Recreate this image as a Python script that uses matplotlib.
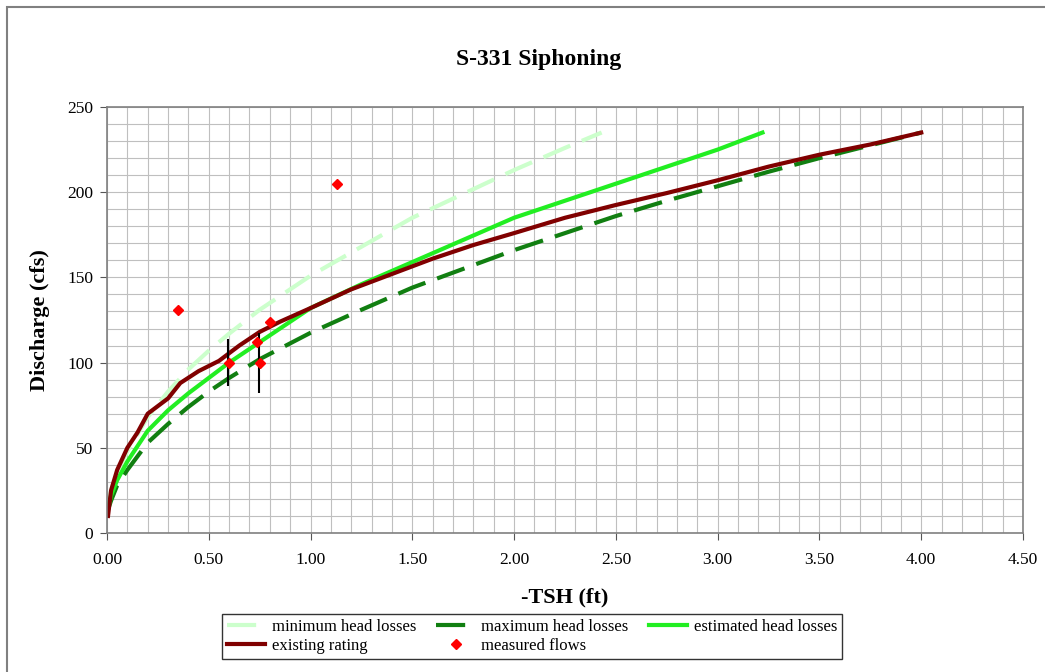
import matplotlib
matplotlib.use("Agg")
import matplotlib.pyplot as plt
from matplotlib.patches import Rectangle
from matplotlib.ticker import MultipleLocator, FormatStrFormatter

plt.rcParams['font.family'] = ['Liberation Serif', 'DejaVu Serif']

# Existing rating
exist_x = [0.005, 0.02, 0.05, 0.10, 0.15, 0.20, 0.30, 0.36, 0.45, 0.55, 0.65, 0.75, 0.85,
           1.0, 1.2, 1.4, 1.6, 1.8, 2.0, 2.25, 2.5, 2.75, 3.0, 3.25, 3.5, 3.75, 4.0]
exist_q = [10, 25, 37, 50, 59, 70, 79, 88, 95, 101, 110, 118, 124,
           132, 143, 152, 161, 169, 176, 185, 192.5, 199.5, 207, 215, 222, 228, 235]

# Estimated head losses
est_x = [0.0, 0.02, 0.05, 0.1, 0.2, 0.3, 0.4, 0.5, 0.6, 0.75, 1.0, 1.25, 1.5, 1.75,
         2.0, 2.25, 2.5, 2.75, 3.0, 3.22]
est_q = [12, 22, 31, 42, 60, 72, 82, 91, 100, 112, 132, 146, 159, 172,
         185, 195, 205, 215, 225, 235]

# Minimum head losses
min_x = [0.0, 0.02, 0.05, 0.1, 0.2, 0.3, 0.4, 0.5, 0.6, 0.75, 1.0, 1.25, 1.5, 1.75,
         2.0, 2.25, 2.43]
min_q = [12, 25, 36, 48, 68, 83, 96, 107, 117, 131, 151, 168, 185, 199,
         213, 226, 235]

# Maximum head losses
max_x = [0.0, 0.02, 0.05, 0.1, 0.2, 0.3, 0.4, 0.5, 0.6, 0.75, 1.0, 1.25, 1.5, 1.75,
         2.0, 2.25, 2.5, 2.75, 3.0, 3.25, 3.5, 3.75, 4.0]
max_q = [12, 19, 28, 37, 53, 64, 74, 83, 91, 102, 117.5, 131, 144, 155,
         166, 176, 186, 195, 203.5, 212, 220, 227.5, 235]

# Measured flows
meas_x = [0.35, 1.13, 0.60, 0.735, 0.75, 0.80]
meas_q = [131, 205, 100, 112, 100, 124]

# Error bars on two measurements
err_x = [0.596, 0.747]
err_q = [100, 100]
err_lo = [14, 18]
err_hi = [14, 17.5]

fig = plt.figure(figsize=(10.45, 6.72), dpi=100)
fig.patch.set_facecolor('white')
fig.add_artist(Rectangle((7/1045, -0.05), 1.2, 1 - 7/672 + 0.05, transform=fig.transFigure,
                         fill=False, edgecolor='#808080', lw=1.5))

ax = fig.add_axes([107/1045, 1 - 533/672, (1023 - 107)/1045, (533 - 107)/672])

lw = 3.0
l_min, = ax.plot(min_x, min_q, color='#CCFFCC', lw=lw, dashes=(7, 3), label='minimum head losses')
l_max, = ax.plot(max_x, max_q, color='#117F11', lw=lw, dashes=(7, 3), label='maximum head losses')
l_est, = ax.plot(est_x, est_q, color='#22EE22', lw=lw, label='estimated head losses')
l_ex, = ax.plot(exist_x, exist_q, color='#800000', lw=lw, label='existing rating')
ax.errorbar(err_x, err_q, yerr=[err_lo, err_hi], fmt='none', ecolor='black', elinewidth=1.5, capsize=0)
l_meas, = ax.plot(meas_x, meas_q, linestyle='none', marker='D', markersize=5.5,
                  color='#FF0000', label='measured flows')

ax.set_xlim(0, 4.5)
ax.set_ylim(0, 250)
ax.xaxis.set_major_locator(MultipleLocator(0.5))
ax.yaxis.set_major_locator(MultipleLocator(50))
ax.xaxis.set_minor_locator(MultipleLocator(0.1))
ax.yaxis.set_minor_locator(MultipleLocator(10))
ax.xaxis.set_major_formatter(FormatStrFormatter('%.2f'))
ax.grid(which='both', color='#BFBFBF', lw=0.8)
ax.set_axisbelow(True)
ax.tick_params(which='minor', length=0)
ax.tick_params(which='major', direction='out', length=5, labelsize=12.5, color='#555555')
ax.tick_params(axis='x', pad=9)
ax.tick_params(axis='y', pad=5)
for s in ax.spines.values():
    s.set_color('#808080')
    s.set_linewidth(1.2)

ax.set_xlabel('-TSH (ft)', fontsize=16, fontweight='bold', labelpad=14)
ax.set_ylabel('Discharge (cfs)', fontsize=16, fontweight='bold', labelpad=12)
fig.text(0.5155, 1 - 60/672, 'S-331 Siphoning', ha='center', va='center',
         fontsize=17, fontweight='bold')

leg = fig.legend([l_min, l_ex, l_max, l_meas, l_est],
                 ['minimum head losses', 'existing rating', 'maximum head losses',
                  'measured flows', 'estimated head losses'],
                 ncol=3, loc='center', bbox_to_anchor=(532/1045, 1 - 636.5/672),
                 fontsize=12, frameon=True, fancybox=False, handlelength=2.3,
                 borderpad=0.3, labelspacing=0.2, columnspacing=1.2, handletextpad=0.4)
leg.get_frame().set_edgecolor('black')
leg.get_frame().set_linewidth(1.0)

fig.savefig('out.png', dpi=100)
